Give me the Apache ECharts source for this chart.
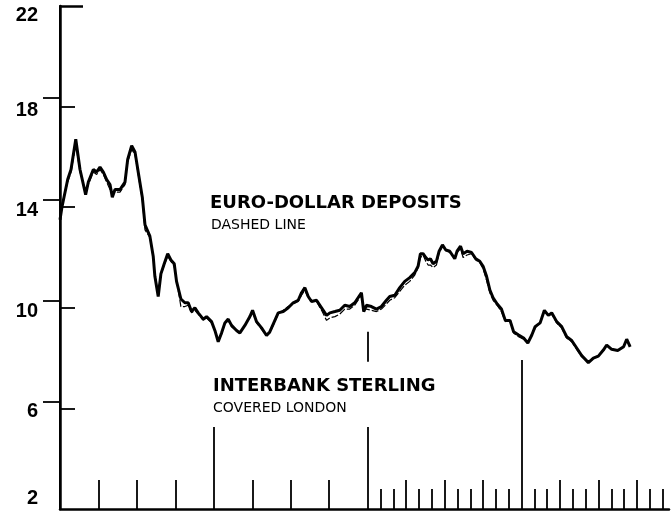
<!DOCTYPE html>
<html>
<head>
<meta charset="utf-8">
<title>Interbank sterling vs euro-dollar deposits</title>
<script src="https://cdn.jsdelivr.net/npm/echarts@6/dist/echarts.min.js"></script>
<style>
    html, body { margin: 0; padding: 0; background: #fff; }
    #chart { width: 672px; height: 515px; }
</style>
</head>
<body>
<div id="chart"></div>
<script>
    // time axis in months from the left edge (4 years shown)
    var months = [
        0, 0.15, 0.6, 0.86, 1.23, 1.56, 2.0, 2.21, 2.6, 2.86,
        3.12, 3.38, 3.64, 3.9, 4.08, 4.29, 4.68, 5.07, 5.28, 5.59,
        5.85, 6.1, 6.42, 6.63, 7.01, 7.27, 7.4, 7.66, 7.87, 8.13,
        8.4, 8.65, 8.91, 9.09, 9.43, 9.74, 10.0, 10.26, 10.52, 10.78,
        11.17, 11.43, 11.82, 12.08, 12.34, 12.6, 12.86, 13.12, 13.38, 13.77,
        14.03, 14.42, 14.81, 15.02, 15.33, 15.72, 16.11, 16.37, 16.76, 17.02,
        17.41, 17.8, 18.19, 18.58, 18.84, 19.1, 19.36, 19.62, 20.01, 20.4,
        20.79, 21.05, 21.44, 21.82, 22.21, 22.6, 22.99, 23.25, 23.51, 23.69,
        23.9, 24.29, 24.68, 25.07, 25.46, 25.72, 26.11, 26.5, 26.89, 27.28,
        27.67, 27.93, 28.11, 28.32, 28.53, 28.71, 28.89, 29.1, 29.36, 29.57,
        29.83, 30.09, 30.4, 30.79, 30.97, 31.24, 31.44, 31.75, 32.1, 32.43,
        32.74, 33.0, 33.27, 33.53, 33.78, 34.1, 34.43, 34.73, 35.1, 35.38,
        35.77, 36.16, 36.49, 36.8, 37.06, 37.45, 37.78, 38.09, 38.35, 38.74,
        39.13, 39.52, 39.91, 40.3, 40.69, 41.21, 41.6, 41.99, 42.38, 42.64,
        43.03, 43.5, 43.96, 44.2, 44.47
    ];
    // interbank sterling, covered London (heavy line)
    var sterling = [
        13.5, 14.0, 15.1, 15.5, 16.7, 15.5, 14.5, 15.0, 15.5, 15.4,
        15.6, 15.4, 15.1, 14.9, 14.4, 14.7, 14.7, 15.0, 15.9, 16.45,
        16.2, 15.4, 14.4, 13.3, 12.85, 12.05, 11.25, 10.45, 11.35, 11.75,
        12.15, 11.9, 11.75, 11.05, 10.35, 10.2, 10.2, 9.85, 10.0, 9.8,
        9.55, 9.65, 9.45, 9.1, 8.65, 9.0, 9.4, 9.55, 9.3, 9.1,
        9.0, 9.3, 9.65, 9.9, 9.45, 9.2, 8.9, 9.05, 9.5, 9.8,
        9.85, 10.0, 10.2, 10.3, 10.6, 10.8, 10.45, 10.25, 10.3, 10.0,
        9.7, 9.8, 9.85, 9.9, 10.1, 10.05, 10.2, 10.4, 10.6, 9.85,
        10.1, 10.05, 9.95, 10.05, 10.3, 10.45, 10.5, 10.8, 11.05, 11.2,
        11.4, 11.65, 12.15, 12.15, 12.0, 11.9, 11.95, 11.75, 11.85, 12.25,
        12.5, 12.3, 12.25, 11.95, 12.25, 12.45, 12.15, 12.25, 12.2, 11.95,
        11.85, 11.65, 11.25, 10.7, 10.4, 10.15, 9.95, 9.5, 9.5, 9.05,
        8.92, 8.8, 8.6, 8.92, 9.25, 9.4, 9.9, 9.7, 9.8, 9.45,
        9.25, 8.85, 8.7, 8.4, 8.1, 7.82, 8.0, 8.08, 8.32, 8.52,
        8.35, 8.3, 8.45, 8.75, 8.45
    ];
    // euro-dollar deposits (thin dashed line)
    var euroDollar = [
        13.6, 14.1, 15.0, 15.4, 16.5, 15.4, 14.6, 14.9, 15.4, 15.3,
        15.5, 15.3, 15.0, 14.7, 14.5, 14.6, 14.6, 14.9, 15.8, 16.3,
        16.1, 15.3, 14.3, 13.1, 12.8, 12.0, 11.3, 10.6, 11.3, 11.7,
        12.05, 11.85, 11.65, 11.1, 10.05, 10.05, 10.1, 9.8, 9.9, 9.75,
        9.5, 9.6, 9.4, 9.1, 8.7, 8.95, 9.35, 9.5, 9.25, 9.1,
        9.0, 9.3, 9.6, 9.85, 9.4, 9.15, 8.9, 9.0, 9.45, 9.75,
        9.9, 10.05, 10.15, 10.25, 10.5, 10.7, 10.4, 10.3, 10.25, 9.9,
        9.5, 9.6, 9.65, 9.75, 9.95, 9.95, 10.1, 10.3, 10.5, 9.9,
        9.95, 9.9, 9.85, 9.95, 10.15, 10.3, 10.4, 10.65, 10.9, 11.05,
        11.3, 11.6, 12.0, 12.1, 11.85, 11.7, 11.7, 11.6, 11.7, 12.2,
        12.45, 12.3, 12.2, 12.0, 12.2, 12.35, 12.0, 12.1, 12.15, 11.9,
        11.8, 11.55, 11.1, 10.6, 10.3, 10.1, 9.85, 9.45, 9.55, 9.0,
        8.85, 8.75, 8.6, 8.9, 9.2, 9.4, 9.85, 9.7, 9.75, 9.4,
        9.2, 8.8, 8.65, 8.35, 8.05, 7.85, 8.0, 8.1, 8.3, 8.5,
        8.35, 8.3, 8.45, 8.7, 8.5
    ];

    // axis ticks
    var yTickValues = [6, 10, 14, 18];
    var rightTickValues = [6.25, 10.3, 14.3, 18.35];
    var quarterTicks = [3, 6, 9, 15, 18, 21, 27, 30, 33, 39, 42, 45];
    var monthTicks = [25, 26, 28, 29, 31, 32, 34, 35, 37, 38, 40, 41, 43, 44, 46, 47];
    var yearTicks = [12, 24];
    var lastYearTick = [36];

    function pairs(xs, ys) {
        var out = [];
        for (var i = 0; i < xs.length; i++) out.push([xs[i], ys[i]]);
        return out;
    }

    function tickAxis(values, len, showLine) {
        return {
            type: 'value', min: 0, max: 47.5, position: 'bottom',
            axisLine: { show: !!showLine, onZero: false, lineStyle: { color: '#000', width: 2.5 } },
            axisTick: { show: true, inside: true, length: len, customValues: values,
                        lineStyle: { color: '#000', width: 1.8 } },
            axisLabel: { show: false },
            splitLine: { show: false }
        };
    }

    var labelFont = { fontSize: 20, fontWeight: 'bold', color: '#000',
                      fontFamily: 'Liberation Sans, Arial, sans-serif' };

    var chart = echarts.init(document.getElementById('chart'));

    var option = {
        backgroundColor: '#fff',
        animation: false,
        grid: { left: 60, right: 3, top: 6, bottom: 6 },
        xAxis: [
            tickAxis(quarterTicks, 29, true),
            tickAxis(monthTicks, 20),
            tickAxis(yearTicks, 82),
            tickAxis(lastYearTick, 149)
        ],
        yAxis: [
            {
                type: 'value', min: 2, max: 22, interval: 4, position: 'left',
                axisLine: { show: true, lineStyle: { color: '#000', width: 2.5 } },
                axisTick: { show: true, inside: true, length: 15, customValues: yTickValues,
                            lineStyle: { color: '#000', width: 1.8 } },
                axisLabel: {
                    margin: 22, color: '#000', fontSize: 20, fontWeight: 'bold',
                    fontFamily: 'Liberation Sans, Arial, sans-serif',
                    formatter: function (v) {
                        if (v === 22) return '{hi|22}';
                        if (v === 2) return '{lo|2}';
                        return '{n|' + v + '}';
                    },
                    rich: {
                        hi: Object.assign({ padding: [18, 0, 0, 0] }, labelFont),
                        lo: Object.assign({ padding: [0, 0, 22, 0] }, labelFont),
                        n: Object.assign({ padding: [7, 0, 0, 0] }, labelFont)
                    }
                },
                splitLine: { show: false }
            },
            {
                type: 'value', min: 2, max: 22, position: 'left',
                axisLine: { show: false },
                axisTick: { show: true, inside: true, length: 23, customValues: [22],
                            lineStyle: { color: '#000', width: 2.5 } },
                axisLabel: { show: false },
                splitLine: { show: false }
            },
            {
                type: 'value', min: 2, max: 22, position: 'right',
                axisLine: { show: true, lineStyle: { color: '#000', width: 2 } },
                axisTick: { show: true, inside: true, length: 17, customValues: rightTickValues,
                            lineStyle: { color: '#000', width: 1.8 } },
                axisLabel: { show: false },
                splitLine: { show: false }
            }
        ],
        graphic: [
            { type: 'text', left: 210, top: 194,
              style: { text: 'EURO-DOLLAR DEPOSITS', fill: '#000', fontSize: 18, fontWeight: 'bold',
                       fontFamily: 'DejaVu Sans' } },
            { type: 'text', left: 211, top: 218,
              style: { text: 'DASHED LINE', fill: '#000', fontSize: 14,
                       fontFamily: 'DejaVu Sans' } },
            { type: 'text', left: 213, top: 377,
              style: { text: 'INTERBANK STERLING', fill: '#000', fontSize: 18, fontWeight: 'bold',
                       fontFamily: 'DejaVu Sans' } },
            { type: 'text', left: 213, top: 401,
              style: { text: 'COVERED LONDON', fill: '#000', fontSize: 14,
                       fontFamily: 'DejaVu Sans' } }
        ],
        series: [
            {
                name: 'Euro-dollar deposits',
                type: 'line',
                data: pairs(months, euroDollar),
                showSymbol: false,
                z: 2,
                lineStyle: { color: '#000', width: 1.2, type: [7, 2] }
            },
            {
                name: 'Interbank sterling',
                type: 'line',
                data: pairs(months, sterling),
                showSymbol: false,
                z: 3,
                lineStyle: { color: '#000', width: 3 },
                markLine: {
                    silent: true, symbol: 'none', label: { show: false },
                    lineStyle: { color: '#000', width: 1.8, type: 'solid' },
                    data: [[{ coord: [24, 9.05] }, { coord: [24, 7.85] }]]
                }
            }
        ]
    };
    chart.setOption(option);
</script>
</body>
</html>
